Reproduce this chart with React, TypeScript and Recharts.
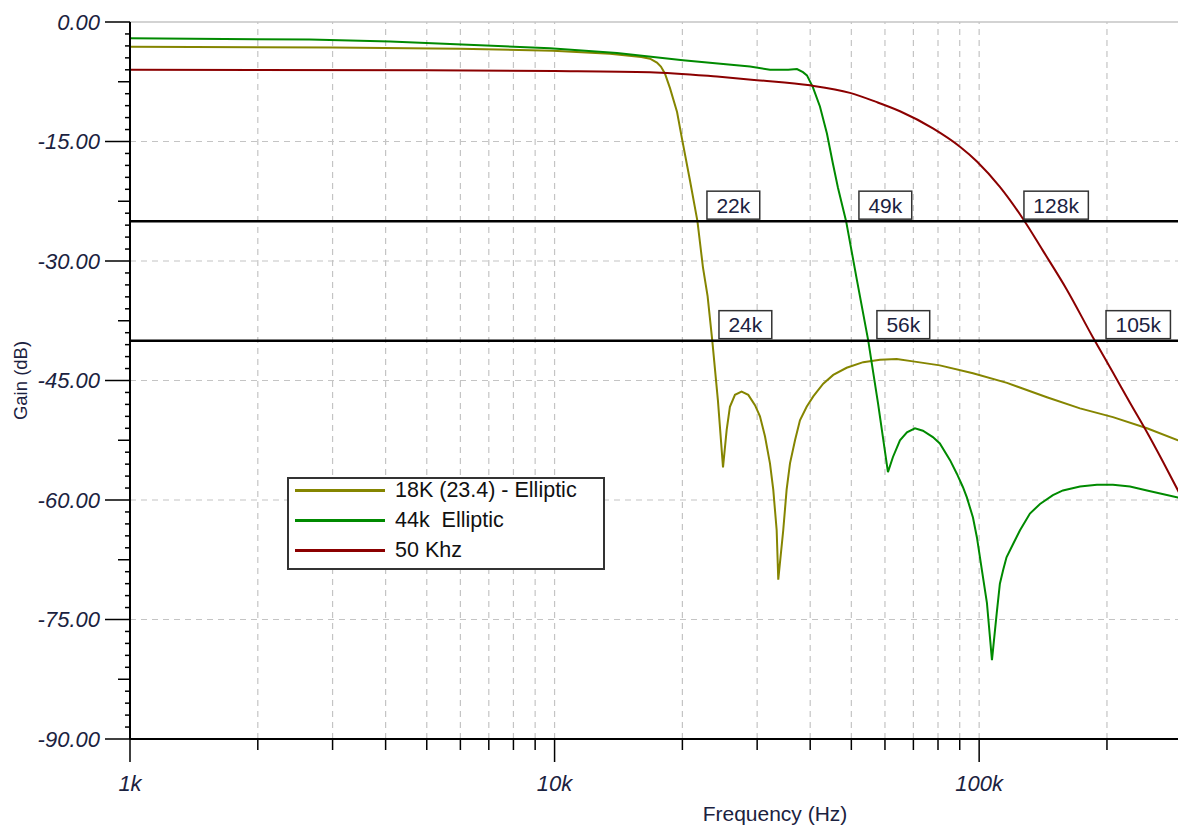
import React from 'react';
import {
  LineChart, Line, XAxis, YAxis, ReferenceLine, ReferenceDot, Legend,
} from 'recharts';

// Frequencies in Hz, gain in dB
const elliptic18kFreq = [
  1000, 3000, 6000, 9910, 13500, 16000, 16780, 17420, 17800, 18200, 18700, 19430,
  19950, 20840, 21700, 22360, 22930, 23520, 24250, 24930, 25430, 25880, 26600, 27570,
  28590, 29650, 30460, 31300, 32160, 32740, 33350, 33640, 34560, 35200, 35850, 36840,
  37840, 39240, 40670, 42930, 45330, 48740, 53330, 58400, 63930, 69850, 80800, 96700,
  116300, 144400, 172800, 206600, 248500, 294000, 300000,
];
const elliptic18kGain = [
  -3.1, -3.2, -3.35, -3.6, -4.0, -4.4, -4.6, -5.1, -5.6, -6.5, -8.3, -11.3,
  -14.6, -19.9, -25.0, -30.8, -34.4, -40.0, -47.5, -55.9, -51.2, -48.3, -46.8, -46.4,
  -46.8, -48.1, -49.5, -52.0, -55.4, -58.7, -63.8, -70.0, -63.8, -58.7, -55.4, -52.5,
  -50.0, -48.3, -47.0, -45.4, -44.3, -43.4, -42.7, -42.4, -42.3, -42.6, -43.1, -44.1,
  -45.3, -47.1, -48.5, -49.6, -51.0, -52.5, -52.6,
];

const elliptic44kFreq = [
  1000, 2650, 4100, 9750, 14030, 20060, 28860, 32160, 35500, 37230, 38460, 39300,
  40600, 42170, 43800, 45250, 46500, 48600, 51500, 54800, 57800, 60980, 62660, 65090,
  67600, 70600, 73700, 77800, 80800, 85400, 88600, 91600, 93600, 96700, 98800, 101500,
  104300, 107200, 110000, 111900, 113900, 116000, 120300, 124800, 131700, 139100, 149200, 157500,
  172800, 189400, 206600, 226600, 248500, 294000, 300000,
];
const elliptic44kGain = [
  -2.05, -2.2, -2.45, -3.3, -3.9, -4.8, -5.6, -6.0, -6.0, -5.9, -6.3, -6.7,
  -8.2, -10.6, -14.0, -17.8, -20.8, -25.0, -32.3, -40.0, -47.9, -56.5, -54.6, -52.5,
  -51.5, -51.0, -51.3, -52.1, -52.9, -55.0, -56.7, -58.4, -59.7, -62.2, -64.7, -68.8,
  -72.9, -80.1, -74.2, -70.5, -68.8, -67.2, -65.5, -63.8, -61.7, -60.5, -59.4, -58.8,
  -58.3, -58.1, -58.1, -58.3, -58.8, -59.7, -59.85,
];

const khz50Freq = [
  1000, 5000, 10000, 16780, 24130, 29980, 39950, 49630, 57000, 65090, 77830, 90120,
  98800, 111900, 126800, 141300, 160900, 185400, 206600, 226600, 248500, 271000, 300000,
];
const khz50Gain = [
  -6.0, -6.05, -6.15, -6.3, -6.85, -7.3, -7.95, -8.9, -10.0, -11.2, -13.35, -15.65,
  -17.5, -20.7, -24.7, -28.7, -33.6, -39.6, -44.0, -47.8, -51.5, -55.2, -59.7,
];

// marker lines and their boxed labels
const markerLevels = [-25, -40];
const markerLabels = ['22k', '49k', '128k', '24k', '56k', '105k'];
const markerFreq = [22850, 52100, 127500, 24390, 57440, 199000];
const markerGain = [-25, -25, -25, -40, -40, -40];

// axes
const freqTicks = [
  1000, 2000, 3000, 4000, 5000, 6000, 7000, 8000, 9000,
  10000, 20000, 30000, 40000, 50000, 60000, 70000, 80000, 90000,
  100000, 200000,
];
const freqDecades = [1000, 10000, 100000];
const freqDecadeLabels = ['1k', '10k', '100k'];
const gainMajor = [0, -15, -30, -45, -60, -75, -90];
const gainTicks: number[] = [];
for (let i = 0; i <= 60; i++) gainTicks.push(-Math.round(i * 15) / 10);

const FONT = '"Liberation Sans", Arial, sans-serif';
const TEXT = '#1b2240';
const GRID = '#c4c4c4';

const zip = (fs: number[], gs: number[]) => fs.map((f, i) => ({ f, g: gs[i] }));

const FreqTick = (props: any) => {
  const { x, y, payload } = props;
  const idx = freqDecades.indexOf(payload.value);
  const major = idx >= 0;
  return (
    <g>
      <line x1={x} x2={x} y1={y} y2={y + (major ? 23 : 11)} stroke="#000" strokeWidth={1.5} />
      {major && (
        <text x={x} y={y + 52} textAnchor="middle" fontStyle="italic" fontSize={22} fill={TEXT} fontFamily={FONT}>
          {freqDecadeLabels[idx]}
        </text>
      )}
    </g>
  );
};

const GainTick = (props: any) => {
  const { x, y, payload } = props;
  const v = payload.value;
  const major = gainMajor.includes(v);
  const mid = !major && Math.abs(v % 7.5) < 1e-6;
  const len = major ? 25 : mid ? 12 : 5;
  return (
    <g>
      <line x1={x - len} x2={x} y1={y} y2={y} stroke="#000" strokeWidth={1.5} />
      {major && (
        <text x={x - 30} y={y} dy="0.36em" textAnchor="end" fontStyle="italic" fontSize={22} fill={TEXT} fontFamily={FONT}>
          {v.toFixed(2)}
        </text>
      )}
    </g>
  );
};

const MarkerBox = ({ cx, cy, text }: any) => {
  const w = text.length * 11.6 + 18;
  return (
    <g>
      <rect x={cx} y={cy - 30} width={w} height={28} fill="#fff" stroke="#333" strokeWidth={1.5} />
      <text x={cx + w / 2} y={cy - 16} dy="0.36em" textAnchor="middle" fontSize={21} fill={TEXT} fontFamily={FONT}>
        {text}
      </text>
    </g>
  );
};

const LegendBox = ({ payload }: any) => (
  <div
    style={{
      width: 318, height: 93, boxSizing: 'border-box', border: '2px solid #333', background: '#fff',
      fontFamily: FONT, fontSize: 21.5, color: '#111', display: 'flex', flexDirection: 'column', gap: 8,
    }}
  >
    {(payload || []).map((p: any, i: number) => (
      <div key={i} style={{ display: 'flex', alignItems: 'center', height: 22 }}>
        <div style={{ marginLeft: 6, width: 90, height: 3, background: p.color }} />
        <span style={{ marginLeft: 10, whiteSpace: 'pre', lineHeight: '22px' }}>{p.value}</span>
      </div>
    ))}
  </div>
);

export default function App() {
  const gridFreq = freqTicks.filter((f) => f !== 1000);
  const gridGain = gainMajor.filter((g) => g !== 0 && g !== -90);

  return (
    <div style={{ width: 1178, height: 826, background: '#fff', fontFamily: FONT }}>
      <style>{'body{margin:0}'}</style>
      <LineChart width={1178} height={826} margin={{ top: 22, right: 0, bottom: 0, left: 0 }}>
        <XAxis
          dataKey="f"
          type="number"
          scale="log"
          domain={[1000, 294000]}
          allowDataOverflow
          ticks={freqTicks}
          interval={0}
          tick={<FreqTick />}
          tickLine={false}
          tickSize={0}
          tickMargin={0}
          axisLine={{ stroke: '#000', strokeWidth: 2 }}
          height={87}
          label={(p: any) => (
            <text x={p.viewBox.x + 645} y={p.viewBox.y + 82} textAnchor="middle" fontSize={21} fill={TEXT} fontFamily={FONT}>
              Frequency (Hz)
            </text>
          )}
        />
        <YAxis
          type="number"
          domain={[-90, 0]}
          allowDataOverflow
          ticks={gainTicks}
          interval={0}
          tick={<GainTick />}
          tickLine={false}
          tickSize={0}
          tickMargin={0}
          axisLine={{ stroke: '#000', strokeWidth: 2 }}
          width={130}
          label={(p: any) => {
            const cy = p.viewBox.y + p.viewBox.height / 2;
            return (
              <text x={20} y={cy} dy="0.36em" textAnchor="middle" fontSize={18.5} fill={TEXT} fontFamily={FONT}
                transform={`rotate(-90, 20, ${cy})`}>
                Gain (dB)
              </text>
            );
          }}
        />

        {gridFreq.map((f) => (
          <ReferenceLine key={'vx' + f} x={f} stroke={GRID} strokeDasharray="6 5" strokeWidth={1.2} />
        ))}
        {gridGain.map((g) => (
          <ReferenceLine key={'hy' + g} y={g} stroke={GRID} strokeDasharray="6 5" strokeWidth={1.2} />
        ))}
        <ReferenceLine y={0} stroke={GRID} strokeWidth={1.5} />

        <Line data={zip(elliptic18kFreq, elliptic18kGain)} dataKey="g" name="18K (23.4) - Elliptic"
          type="linear" stroke="#858500" strokeWidth={2} dot={false} isAnimationActive={false} />
        <Line data={zip(elliptic44kFreq, elliptic44kGain)} dataKey="g" name="44k  Elliptic"
          type="linear" stroke="#008a00" strokeWidth={2} dot={false} isAnimationActive={false} />
        <Line data={zip(khz50Freq, khz50Gain)} dataKey="g" name="50 Khz"
          type="monotone" stroke="#8b0000" strokeWidth={2} dot={false} isAnimationActive={false} />

        {markerLevels.map((m) => (
          <ReferenceLine key={'m' + m} y={m} stroke="#000" strokeWidth={2.5} />
        ))}
        {markerLabels.map((t, i) => (
          <ReferenceDot key={t} x={markerFreq[i]} y={markerGain[i]} r={0}
            shape={(p: any) => <MarkerBox cx={p.cx} cy={p.cy} text={t} />} />
        ))}

        <Legend layout="vertical" align="center" verticalAlign="middle"
          wrapperStyle={{ left: 287, top: 477, width: 318, height: 93 }}
          content={<LegendBox />} />
      </LineChart>
    </div>
  );
}
